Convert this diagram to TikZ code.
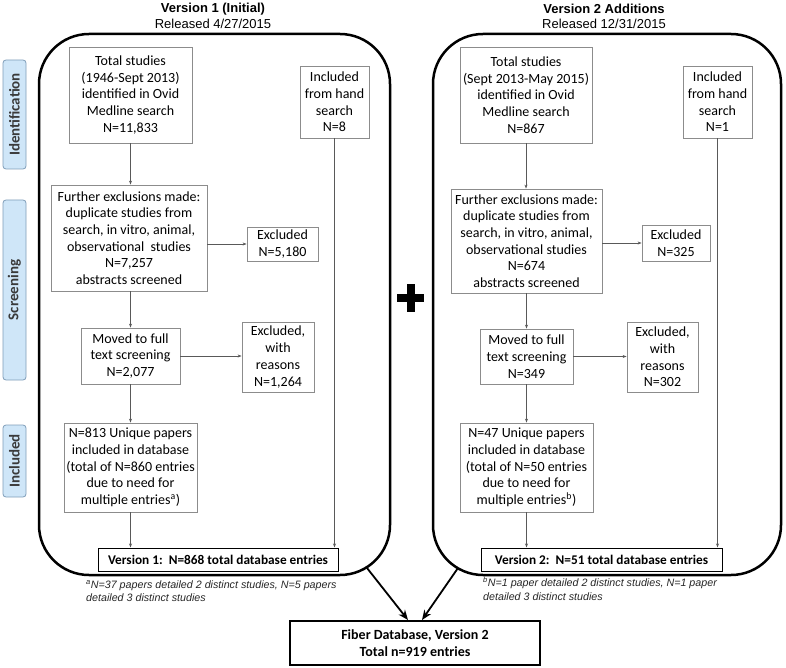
\documentclass[tikz,border=0pt]{standalone}
\usepackage{fontspec}
\setmainfont{Carlito}
\newfontfamily\arial{Liberation Sans}
\usetikzlibrary{arrows.meta,calc}
\definecolor{boxgray}{HTML}{8C8C8C}
\definecolor{linegray}{HTML}{595959}
\definecolor{tabfill}{HTML}{CFE6F8}
\definecolor{tabdraw}{HTML}{7F9DB9}
\definecolor{tabtext}{HTML}{3A3A3A}
\begin{document}
\begin{tikzpicture}[x=1pt,y=-1pt,
  fbox/.style={draw=boxgray, line width=0.8pt, fill=white, align=center, inner sep=0pt, font=\fontsize{14}{16.7}\selectfont},
  totbox/.style={draw=black, line width=1pt, fill=white, align=center, inner sep=0pt, font=\bfseries\fontsize{13.3}{15}\selectfont},
  conn/.style={draw=linegray, line width=0.7pt, -{Stealth[length=4pt,width=3pt]}},
  bigarrow/.style={draw=black, line width=1.8pt, -{Stealth[length=10pt,width=8pt]}},
  panel/.style={draw=black, line width=2.5pt, rounded corners=50pt},
  tabbox/.style={draw=tabdraw, fill=tabfill, rounded corners=3pt, line width=0.8pt, rotate=90, font=\bfseries\fontsize{15}{18}\selectfont, text=tabtext, inner sep=0pt, minimum height=23pt},
  ttl/.style={font=\arial\bfseries\fontsize{13}{15}\selectfont, inner sep=0pt},
  sub/.style={font=\arial\fontsize{13}{15}\selectfont, inner sep=0pt},
  fnote/.style={anchor=north west, align=left, font=\arial\itshape\fontsize{10.7}{13.5}\selectfont, text=black!85, inner sep=0pt}]
\useasboundingbox (0,0) rectangle (786,668);

% stage tabs
\node[tabbox, minimum width=109pt] (tid) at (14.5,114.5) {Identification};
\node[tabbox, minimum width=180pt] (tsc) at (14.5,290) {Screening};
\node[tabbox, minimum width=72pt] (tin) at (14.5,461) {Included};

% titles
\node[ttl] (t1) at (213,9) {Version 1 (Initial)};
\node[sub] (s1) at (213,24) {Released 4/27/2015};
\node[ttl] (t2) at (604,9) {Version 2 Additions};
\node[sub] (s2) at (604,24) {Released 12/31/2015};

% panels
\draw[panel] (39,34) rectangle (390,575);
\draw[panel] (433,34) rectangle (781,575);

% left panel
\node[fbox, minimum width=123pt, minimum height=96pt] (L1) at (130.5,95) {Total studies\\(1946-Sept 2013)\\identified in Ovid\\Medline search\\N=11,833};
\node[fbox, minimum width=69pt, minimum height=72pt] (L2) at (334.5,102) {Included\\from hand\\search\\N=8};
\node[fbox, minimum width=156pt, minimum height=106pt] (L3) at (129,238) {Further exclusions made:\\duplicate studies from\\search, in vitro, animal,\\observational\ \ studies\\N=7,257\\abstracts screened};
\node[fbox, minimum width=71pt, minimum height=34pt] (L4) at (282.5,244) {Excluded\\N=5,180};
\node[fbox, minimum width=99pt, minimum height=56pt] (L5) at (130.5,356) {Moved to full\\text screening\\N=2,077};
\node[fbox, minimum width=72pt, minimum height=70pt] (L6) at (278,357) {Excluded,\\with\\reasons\\N=1,264};
\node[fbox, minimum width=133pt, minimum height=89pt] (L7) at (130.5,467.5) {N=813 Unique papers\\included in database\\(total of N=860 entries\\due to need for\\multiple entries\textsuperscript{a})};
\node[totbox, minimum width=240pt, minimum height=23pt] (L8) at (218,559.5) {Version 1:\ \ N=868 total database entries};

\draw[conn] (L1.south) -- (L1.south |- L3.north);
\draw[conn] (L3.east |- L4.west) -- (L4.west);
\draw[conn] (L5.north |- L3.south) -- (L5.north);
\draw[conn] (L5.east) -- (L6.west |- L5.east);
\draw[conn] (L5.south) -- (L5.south |- L7.north);
\draw[conn] (L7.south) -- (L7.south |- L8.north);
\draw[conn] (L2.south) -- (L2.south |- L8.north);

% right panel
\node[fbox, minimum width=132pt, minimum height=96pt] (R1) at (526,95) {Total studies\\(Sept 2013-May 2015)\\identified in Ovid\\Medline search\\N=867};
\node[fbox, minimum width=69pt, minimum height=72pt] (R2) at (717.5,102) {Included\\from hand\\search\\N=1};
\node[fbox, minimum width=151pt, minimum height=104pt] (R3) at (526.5,241) {Further exclusions made:\\duplicate studies from\\search, in vitro, animal,\\observational studies\\N=674\\abstracts screened};
\node[fbox, minimum width=68pt, minimum height=36pt] (R4) at (676,243) {Excluded\\N=325};
\node[fbox, minimum width=93pt, minimum height=55pt] (R5) at (526.5,356.5) {Moved to full\\text screening\\N=349};
\node[fbox, minimum width=71pt, minimum height=70pt] (R6) at (662.5,357) {Excluded,\\with\\reasons\\N=302};
\node[fbox, minimum width=133pt, minimum height=89pt] (R7) at (526.5,467.5) {N=47 Unique papers\\included in database\\(total of N=50 entries\\due to need for\\multiple entries\textsuperscript{b})};
\node[totbox, minimum width=241pt, minimum height=23pt] (R8) at (601.5,559.5) {Version 2:\ \ N=51 total database entries};

\draw[conn] (R1.south) -- (R1.south |- R3.north);
\draw[conn] (R3.east |- R4.west) -- (R4.west);
\draw[conn] (R3.south) -- (R3.south |- R5.north);
\draw[conn] (R5.east) -- (R6.west |- R5.east);
\draw[conn] (R5.south) -- (R5.south |- R7.north);
\draw[conn] (R7.south) -- (R7.south |- R8.north);
\draw[conn] (R2.south) -- (R2.south |- R8.north);

% plus sign
\draw[line width=8pt] (397,298) -- (424,298);
\draw[line width=8pt] (410.5,284) -- (410.5,312);

% footnotes
\node[fnote] (fn1) at (86,580) {\textsuperscript{a}N=37 papers detailed 2 distinct studies, N=5 papers\\detailed 3 distinct studies};
\node[fnote] (fn2) at (483,577) {\textsuperscript{b}N=1 paper detailed 2 distinct studies, N=1 paper\\detailed 3 distinct studies};

% final box
\node[draw=black, line width=2pt, fill=white, align=center, inner sep=0pt, minimum width=250pt, minimum height=44pt, font=\bfseries\fontsize{14}{17}\selectfont] (fb) at (415,643) {Fiber Database, Version 2\\Total n=919 entries};
\coordinate (la) at (367,568);
\coordinate (ra) at (458,568);
\draw[bigarrow] (la) -- ($(fb.north)+(-7,0)$);
\draw[bigarrow] (ra) -- ($(fb.north)+(7,0)$);
\end{tikzpicture}
\end{document}
